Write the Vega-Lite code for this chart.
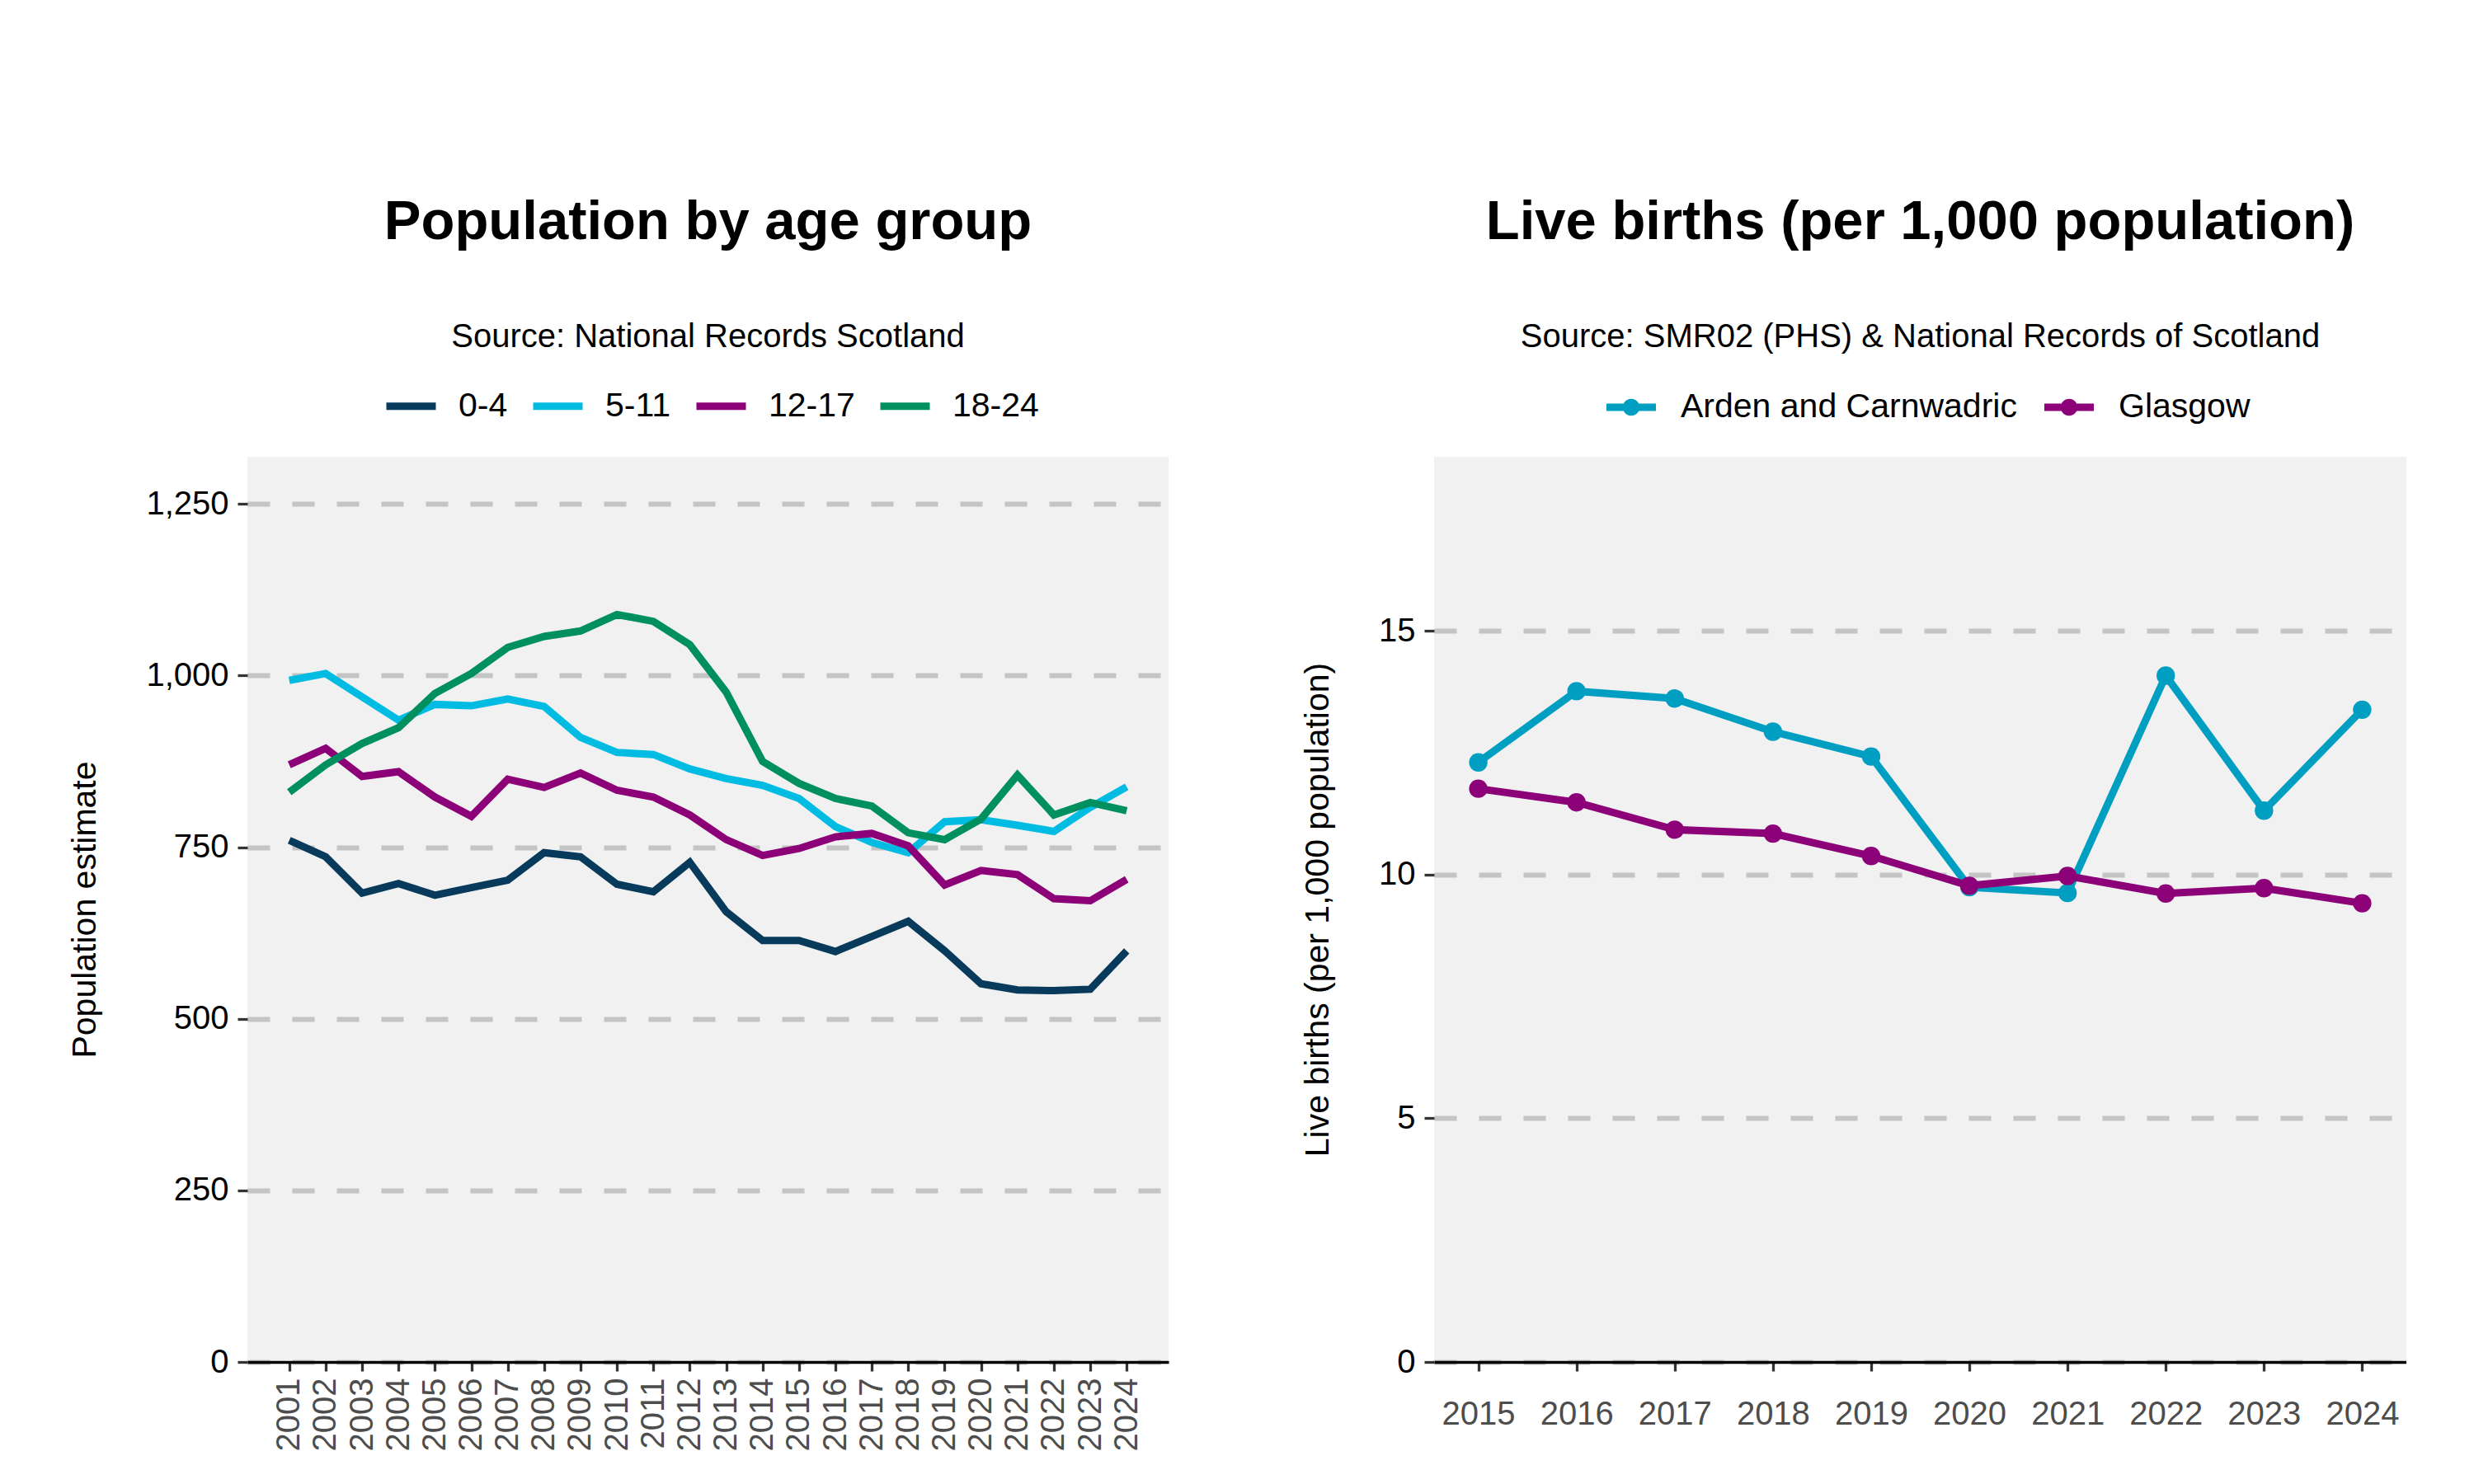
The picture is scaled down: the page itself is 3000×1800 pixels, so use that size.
{
  "$schema": "https://vega.github.io/schema/vega-lite/v6.json",
  "background": "white",
  "padding": {"left": 82, "top": 236, "right": 0, "bottom": 0},
  "config": {
    "font": "Liberation Sans",
    "view": {"fill": "#F1F1F1", "stroke": null},
    "axis": {
      "labelFont": "Liberation Sans",
      "labelFontSize": 40,
      "titleFont": "Liberation Sans",
      "titleFontSize": 41,
      "titleFontWeight": "normal",
      "titleColor": "black",
      "tickColor": "#333333",
      "tickWidth": 3.3,
      "tickSize": 12,
      "labelPadding": 11,
      "gridColor": "#C4C4C4",
      "gridWidth": 6,
      "gridDash": [27, 27],
      "domainColor": "black",
      "domainWidth": 3.3
    },
    "axisX": {"labelColor": "#4D4D4D", "grid": false, "tickSize": 11, "labelPadding": 8},
    "axisY": {"labelColor": "black", "domain": false, "titlePadding": 52},
    "legend": {"labelFont": "Liberation Sans", "labelFontSize": 41, "labelColor": "black", "labelLimit": 0},
    "title": {"font": "Liberation Sans", "subtitleFont": "Liberation Sans", "color": "black", "subtitleColor": "black"}
  },
  "datasets": {
    "pop": [
      {"year": 2001, "group": "0-4", "value": 760},
      {"year": 2002, "group": "0-4", "value": 736},
      {"year": 2003, "group": "0-4", "value": 683},
      {"year": 2004, "group": "0-4", "value": 697},
      {"year": 2005, "group": "0-4", "value": 680},
      {"year": 2006, "group": "0-4", "value": 691},
      {"year": 2007, "group": "0-4", "value": 702},
      {"year": 2008, "group": "0-4", "value": 742},
      {"year": 2009, "group": "0-4", "value": 736},
      {"year": 2010, "group": "0-4", "value": 696},
      {"year": 2011, "group": "0-4", "value": 685},
      {"year": 2012, "group": "0-4", "value": 728},
      {"year": 2013, "group": "0-4", "value": 656},
      {"year": 2014, "group": "0-4", "value": 614},
      {"year": 2015, "group": "0-4", "value": 614},
      {"year": 2016, "group": "0-4", "value": 598},
      {"year": 2017, "group": "0-4", "value": 620},
      {"year": 2018, "group": "0-4", "value": 642},
      {"year": 2019, "group": "0-4", "value": 599},
      {"year": 2020, "group": "0-4", "value": 551},
      {"year": 2021, "group": "0-4", "value": 542},
      {"year": 2022, "group": "0-4", "value": 541},
      {"year": 2023, "group": "0-4", "value": 543},
      {"year": 2024, "group": "0-4", "value": 599},
      {"year": 2001, "group": "5-11", "value": 993},
      {"year": 2002, "group": "5-11", "value": 1003},
      {"year": 2003, "group": "5-11", "value": 969},
      {"year": 2004, "group": "5-11", "value": 935},
      {"year": 2005, "group": "5-11", "value": 958},
      {"year": 2006, "group": "5-11", "value": 956},
      {"year": 2007, "group": "5-11", "value": 966},
      {"year": 2008, "group": "5-11", "value": 955},
      {"year": 2009, "group": "5-11", "value": 910},
      {"year": 2010, "group": "5-11", "value": 888},
      {"year": 2011, "group": "5-11", "value": 885},
      {"year": 2012, "group": "5-11", "value": 864},
      {"year": 2013, "group": "5-11", "value": 850},
      {"year": 2014, "group": "5-11", "value": 840},
      {"year": 2015, "group": "5-11", "value": 821},
      {"year": 2016, "group": "5-11", "value": 780},
      {"year": 2017, "group": "5-11", "value": 757},
      {"year": 2018, "group": "5-11", "value": 742},
      {"year": 2019, "group": "5-11", "value": 787},
      {"year": 2020, "group": "5-11", "value": 790},
      {"year": 2021, "group": "5-11", "value": 782},
      {"year": 2022, "group": "5-11", "value": 773},
      {"year": 2023, "group": "5-11", "value": 808},
      {"year": 2024, "group": "5-11", "value": 838},
      {"year": 2001, "group": "12-17", "value": 870},
      {"year": 2002, "group": "12-17", "value": 894},
      {"year": 2003, "group": "12-17", "value": 853},
      {"year": 2004, "group": "12-17", "value": 860},
      {"year": 2005, "group": "12-17", "value": 823},
      {"year": 2006, "group": "12-17", "value": 795},
      {"year": 2007, "group": "12-17", "value": 849},
      {"year": 2008, "group": "12-17", "value": 837},
      {"year": 2009, "group": "12-17", "value": 858},
      {"year": 2010, "group": "12-17", "value": 833},
      {"year": 2011, "group": "12-17", "value": 823},
      {"year": 2012, "group": "12-17", "value": 797},
      {"year": 2013, "group": "12-17", "value": 761},
      {"year": 2014, "group": "12-17", "value": 738},
      {"year": 2015, "group": "12-17", "value": 748},
      {"year": 2016, "group": "12-17", "value": 765},
      {"year": 2017, "group": "12-17", "value": 770},
      {"year": 2018, "group": "12-17", "value": 752},
      {"year": 2019, "group": "12-17", "value": 695},
      {"year": 2020, "group": "12-17", "value": 716},
      {"year": 2021, "group": "12-17", "value": 710},
      {"year": 2022, "group": "12-17", "value": 675},
      {"year": 2023, "group": "12-17", "value": 672},
      {"year": 2024, "group": "12-17", "value": 703},
      {"year": 2001, "group": "18-24", "value": 830},
      {"year": 2002, "group": "18-24", "value": 870},
      {"year": 2003, "group": "18-24", "value": 901},
      {"year": 2004, "group": "18-24", "value": 924},
      {"year": 2005, "group": "18-24", "value": 974},
      {"year": 2006, "group": "18-24", "value": 1003},
      {"year": 2007, "group": "18-24", "value": 1041},
      {"year": 2008, "group": "18-24", "value": 1057},
      {"year": 2009, "group": "18-24", "value": 1065},
      {"year": 2010, "group": "18-24", "value": 1089},
      {"year": 2011, "group": "18-24", "value": 1079},
      {"year": 2012, "group": "18-24", "value": 1045},
      {"year": 2013, "group": "18-24", "value": 976},
      {"year": 2014, "group": "18-24", "value": 875},
      {"year": 2015, "group": "18-24", "value": 843},
      {"year": 2016, "group": "18-24", "value": 821},
      {"year": 2017, "group": "18-24", "value": 810},
      {"year": 2018, "group": "18-24", "value": 771},
      {"year": 2019, "group": "18-24", "value": 761},
      {"year": 2020, "group": "18-24", "value": 791},
      {"year": 2021, "group": "18-24", "value": 855},
      {"year": 2022, "group": "18-24", "value": 797},
      {"year": 2023, "group": "18-24", "value": 815},
      {"year": 2024, "group": "18-24", "value": 803}
    ],
    "births": [
      {"year": 2015, "area": "Arden and Carnwadric", "rate": 12.30},
      {"year": 2016, "area": "Arden and Carnwadric", "rate": 13.76},
      {"year": 2017, "area": "Arden and Carnwadric", "rate": 13.61},
      {"year": 2018, "area": "Arden and Carnwadric", "rate": 12.93},
      {"year": 2019, "area": "Arden and Carnwadric", "rate": 12.42},
      {"year": 2020, "area": "Arden and Carnwadric", "rate": 9.74},
      {"year": 2021, "area": "Arden and Carnwadric", "rate": 9.62},
      {"year": 2022, "area": "Arden and Carnwadric", "rate": 14.08},
      {"year": 2023, "area": "Arden and Carnwadric", "rate": 11.31},
      {"year": 2024, "area": "Arden and Carnwadric", "rate": 13.38},
      {"year": 2015, "area": "Glasgow", "rate": 11.76},
      {"year": 2016, "area": "Glasgow", "rate": 11.48},
      {"year": 2017, "area": "Glasgow", "rate": 10.92},
      {"year": 2018, "area": "Glasgow", "rate": 10.84},
      {"year": 2019, "area": "Glasgow", "rate": 10.38},
      {"year": 2020, "area": "Glasgow", "rate": 9.77},
      {"year": 2021, "area": "Glasgow", "rate": 9.97},
      {"year": 2022, "area": "Glasgow", "rate": 9.61},
      {"year": 2023, "area": "Glasgow", "rate": 9.72},
      {"year": 2024, "area": "Glasgow", "rate": 9.41}
    ]
  },
  "spacing": 160,
  "resolve": {"scale": {"color": "independent", "stroke": "independent", "x": "independent", "y": "independent"}, "legend": {"color": "independent", "stroke": "independent"}},
  "hconcat": [
    {
      "width": 1117,
      "height": 1098,
      "title": {
        "text": "Population by age group",
        "subtitle": "Source: National Records Scotland",
        "anchor": "middle",
        "frame": "group",
        "fontSize": 67,
        "fontWeight": "bold",
        "subtitleFontSize": 40,
        "subtitlePadding": 85,
        "offset": 28
      },
      "data": {"name": "pop"},
      "mark": {"type": "line", "strokeWidth": 9},
      "encoding": {
        "x": {
          "field": "year",
          "type": "quantitative",
          "scale": {"domain": [1999.85, 2025.15], "nice": false, "zero": false},
          "axis": {
            "title": null,
            "values": [2001, 2002, 2003, 2004, 2005, 2006, 2007, 2008, 2009, 2010, 2011, 2012, 2013, 2014, 2015, 2016, 2017, 2018, 2019, 2020, 2021, 2022, 2023, 2024],
            "format": "d",
            "labelAngle": -90
          }
        },
        "y": {
          "field": "value",
          "type": "quantitative",
          "scale": {"domain": [0, 1318.8], "nice": false},
          "axis": {"title": "Population estimate", "values": [0, 250, 500, 750, 1000, 1250], "format": ",d", "grid": true}
        },
        "color": {
          "field": "group",
          "type": "nominal",
          "sort": ["0-4", "5-11", "12-17", "18-24"],
          "scale": {"domain": ["0-4", "5-11", "12-17", "18-24"], "range": ["#073A5B", "#00BCE3", "#8C0078", "#00905F"]},
          "legend": {
            "orient": "none",
            "legendX": 164,
            "legendY": -96,
            "direction": "horizontal",
            "title": null,
            "symbolType": "stroke",
            "symbolSize": 3600,
            "symbolStrokeWidth": 9,
            "labelOffset": 23,
            "columnPadding": 12
          }
        }
      }
    },
    {
      "width": 1179,
      "height": 1098,
      "title": {
        "text": "Live births (per 1,000 population)",
        "subtitle": "Source: SMR02 (PHS) & National Records of Scotland",
        "anchor": "middle",
        "frame": "group",
        "fontSize": 67,
        "fontWeight": "bold",
        "subtitleFontSize": 40,
        "subtitlePadding": 85,
        "offset": 34
      },
      "data": {"name": "births"},
      "encoding": {
        "x": {
          "field": "year",
          "type": "quantitative",
          "scale": {"domain": [2014.55, 2024.45], "nice": false, "zero": false},
          "axis": {
            "title": null,
            "values": [2015, 2016, 2017, 2018, 2019, 2020, 2021, 2022, 2023, 2024],
            "format": "d",
            "labelAngle": 0,
            "labelPadding": 32
          }
        },
        "y": {
          "field": "rate",
          "type": "quantitative",
          "scale": {"domain": [0, 18.57], "nice": false},
          "axis": {"title": "Live births (per 1,000 population)", "values": [0, 5, 10, 15], "grid": true}
        }
      },
      "layer": [
        {
          "mark": {"type": "line", "strokeWidth": 9},
          "encoding": {
            "stroke": {
              "field": "area",
              "type": "nominal",
              "scale": {"domain": ["Glasgow", "Arden and Carnwadric"], "range": ["#8C0078", "#009FC2"]},
              "legend": null
            }
          }
        },
        {
          "mark": {"type": "point", "filled": true, "opacity": 1, "size": 500},
          "encoding": {
            "color": {
              "field": "area",
              "type": "nominal",
              "scale": {"domain": ["Arden and Carnwadric", "Glasgow"], "range": ["#009FC2", "#8C0078"]},
              "legend": {
                "orient": "none",
                "legendX": 209,
                "legendY": -90,
                "direction": "horizontal",
                "title": null,
                "symbolType": "M-1,-0.15L1,-0.15L1,0.15L-1,0.15Z M0.34,0A0.34,0.34,0,1,1,-0.34,0A0.34,0.34,0,1,1,0.34,0Z",
                "symbolSize": 3600,
                "symbolStrokeWidth": 0,
                "symbolOpacity": 1,
                "labelOffset": 30,
                "columnPadding": 33
              }
            }
          }
        }
      ]
    }
  ]
}
